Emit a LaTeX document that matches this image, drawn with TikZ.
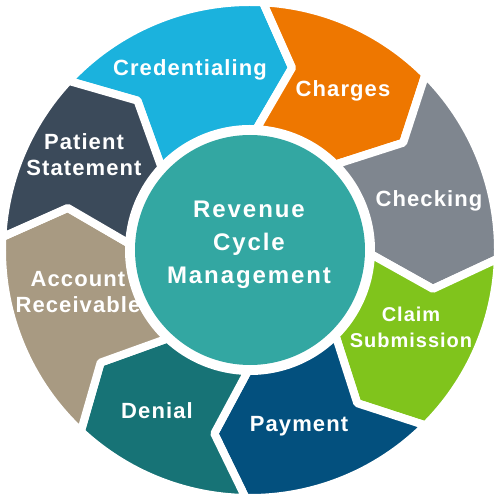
\documentclass[tikz,border=0pt]{standalone}
\usepackage{fontspec}
\setmainfont{Liberation Sans}
\newfontfamily\labfont[LetterSpace=5]{Liberation Sans}
\newfontfamily\ctrfont[LetterSpace=8]{Liberation Sans}
\definecolor{credc}{HTML}{1BB2DD}
\definecolor{chargc}{HTML}{EE7700}
\definecolor{checkc}{HTML}{7F868F}
\definecolor{claimc}{HTML}{80C41C}
\definecolor{payc}{HTML}{03507E}
\definecolor{denc}{HTML}{177376}
\definecolor{arc}{HTML}{A89A82}
\definecolor{patc}{HTML}{3B4A5A}
\definecolor{hubc}{HTML}{33A7A2}
\newcommand\ringseg[3]{%
  \filldraw[fill=#1, draw=white, line width=8pt, line join=round]
    (#2:248pt) arc[start angle=#2, end angle=#3, radius=248pt]
    -- ({#3-10}:187pt) -- (#3:121pt)
    arc[start angle=#3, end angle=#2, radius=121pt]
    -- ({#2-10}:187pt) -- cycle;}
\tikzset{
  lab/.style={text=white, font=\labfont\bfseries\fontsize{22}{26}\selectfont, align=center, anchor=base, inner sep=0pt},
  smalllab/.style={lab, font=\labfont\bfseries\fontsize{20}{26}\selectfont},
  hubtext/.style={text=white, font=\ctrfont\bfseries\fontsize{24}{33}\selectfont, align=center, anchor=base, inner sep=0pt}
}
\begin{document}
\begin{tikzpicture}
\useasboundingbox (-250pt,-250pt) rectangle (250pt,250pt);
\ringseg{credc}{137}{87}
\ringseg{chargc}{87}{45}
\ringseg{checkc}{45}{-2}
\ringseg{claimc}{-2}{-45}
\ringseg{payc}{-45}{-91}
\ringseg{denc}{-91}{-133}
\ringseg{arc}{-133}{-183}
\ringseg{patc}{-183}{-223}
\node[circle, fill=hubc, minimum size=230pt, inner sep=0pt] (hub) at (0pt,0pt) {};
\node[hubtext] (hubt) at (-1pt,-34pt) {Revenue\\Cycle\\Management};
\node[lab] (cred) at (-60pt,174pt) {Credentialing};
\node[lab] (charg) at (93pt,153pt) {Charges};
\node[lab] (check) at (179pt,43pt) {Checking};
\node[smalllab] (claim) at (161pt,-97pt) {Claim\\Submission};
\node[lab] (pay) at (49pt,-181pt) {Payment};
\node[lab] (den) at (-93pt,-168pt) {Denial};
\node[lab] (ar) at (-172pt,-63pt) {Account\\Receivable};
\node[lab] (pat) at (-166pt,74pt) {Patient\\Statement};
\end{tikzpicture}
\end{document}
